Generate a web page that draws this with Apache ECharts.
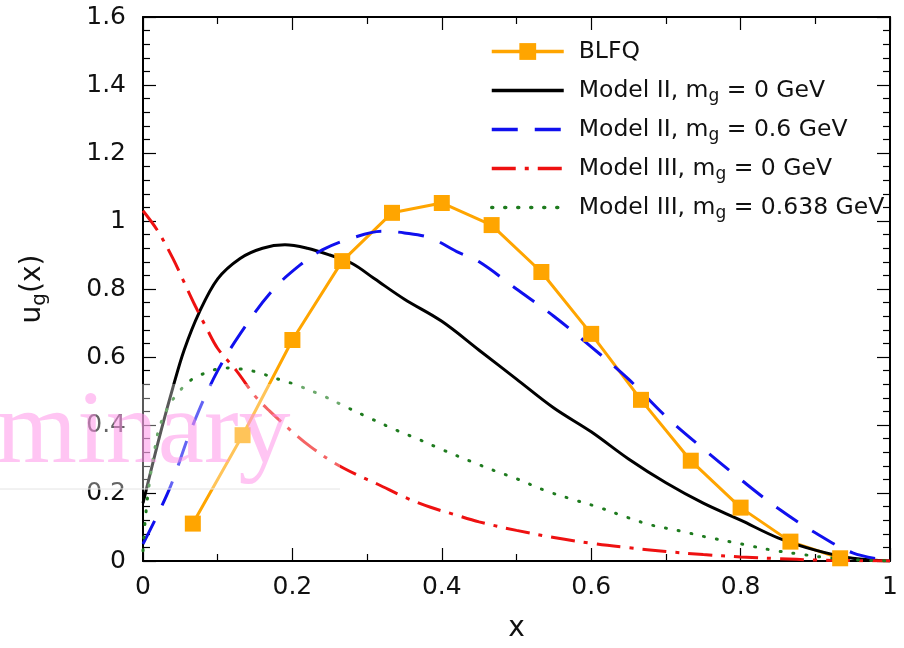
<!DOCTYPE html>
<html>
<head>
<meta charset="utf-8">
<script src="https://cdn.jsdelivr.net/npm/echarts@6/dist/echarts.min.js"></script>
<style>
  html, body { margin: 0; padding: 0; background: #fff; }
  #chart { width: 904px; height: 648px; }
</style>
</head>
<body>
<div id="chart"></div>
<script>
// BLFQ points
const blfqX = [0.0667, 0.1333, 0.2, 0.2667, 0.3333, 0.4, 0.4667, 0.5333, 0.6, 0.6667, 0.7333, 0.8, 0.8667, 0.9333];
const blfqY = [0.11, 0.37, 0.65, 0.882, 1.024, 1.053, 0.988, 0.85, 0.668, 0.474, 0.295, 0.157, 0.057, 0.008];

// Model II, m_g = 0 GeV
const m2aX = [0, 0.01, 0.025, 0.04, 0.055, 0.075, 0.1, 0.13, 0.16, 0.19, 0.22, 0.25, 0.28, 0.31, 0.35, 0.4, 0.45, 0.5, 0.55, 0.6, 0.65, 0.7, 0.75, 0.8, 0.85, 0.9, 0.95, 1.0];
const m2aY = [0.17, 0.26, 0.39, 0.51, 0.62, 0.73, 0.83, 0.89, 0.92, 0.93, 0.92, 0.9, 0.875, 0.83, 0.77, 0.705, 0.62, 0.535, 0.45, 0.38, 0.3, 0.23, 0.17, 0.12, 0.068, 0.032, 0.008, 0];

// Model II, m_g = 0.6 GeV
const m2bX = [0, 0.035, 0.065, 0.1, 0.14, 0.175, 0.21, 0.24, 0.28, 0.32, 0.35, 0.385, 0.42, 0.45, 0.5, 0.55, 0.6, 0.65, 0.7, 0.75, 0.8, 0.85, 0.9, 0.95, 1.0];
const m2bY = [0.05, 0.21, 0.39, 0.56, 0.7, 0.8, 0.87, 0.915, 0.95, 0.97, 0.965, 0.95, 0.91, 0.88, 0.8, 0.72, 0.63, 0.535, 0.425, 0.33, 0.24, 0.155, 0.083, 0.024, 0];

// Model III, m_g = 0 GeV
const m3aX = [0, 0.02, 0.04, 0.055, 0.07, 0.085, 0.1, 0.125, 0.15, 0.17, 0.2, 0.225, 0.255, 0.285, 0.315, 0.35, 0.385, 0.415, 0.45, 0.5, 0.55, 0.6, 0.65, 0.7, 0.75, 0.8, 0.85, 0.9, 0.95, 1.0];
const m3aY = [1.03, 0.97, 0.89, 0.82, 0.75, 0.685, 0.625, 0.56, 0.485, 0.44, 0.38, 0.335, 0.29, 0.255, 0.225, 0.188, 0.158, 0.138, 0.115, 0.09, 0.069, 0.052, 0.039, 0.028, 0.019, 0.012, 0.007, 0.003, 0.001, 0];

// Model III, m_g = 0.638 GeV
const m3bX = [0, 0.003, 0.008, 0.015, 0.023, 0.04, 0.063, 0.08, 0.1, 0.115, 0.13, 0.15, 0.185, 0.205, 0.24, 0.27, 0.3, 0.34, 0.37, 0.4, 0.44, 0.47, 0.5, 0.54, 0.58, 0.61, 0.65, 0.68, 0.72, 0.755, 0.79, 0.81, 0.845, 0.88, 0.915, 0.95, 1.0];
const m3bY = [0.03, 0.12, 0.22, 0.32, 0.4, 0.475, 0.53, 0.55, 0.565, 0.568, 0.565, 0.557, 0.532, 0.518, 0.487, 0.455, 0.424, 0.384, 0.357, 0.328, 0.292, 0.266, 0.242, 0.206, 0.178, 0.158, 0.127, 0.106, 0.088, 0.07, 0.055, 0.046, 0.031, 0.02, 0.01, 0.004, 0];

const names = ['BLFQ', 'Model II, m_g = 0 GeV', 'Model II, m_g = 0.6 GeV', 'Model III, m_g = 0 GeV', 'Model III, m_g = 0.638 GeV'];
const xTicks = { min: 0, max: 1, interval: 0.2 };
const yTicks = { min: 0, max: 1.6, interval: 0.2 };

const font = '"DejaVu Sans", sans-serif';
const pairs = (xs, ys) => xs.map((x, i) => [x, ys[i]]);

const chart = echarts.init(document.getElementById('chart'));

const tickStyle = { color: '#000', width: 1.2 };

function axisBase(show) {
  return {
    type: 'value',
    axisLine: { show: true, onZero: false, lineStyle: { color: '#000', width: 2 } },
    axisTick: { show: true, inside: true, length: 13, lineStyle: tickStyle },
    splitLine: { show: false },
    axisLabel: { show: show, color: '#111', fontSize: 25, fontFamily: font },
  };
}

function lineSeries(name, data, color, type, cap) {
  return {
    name: name,
    type: 'line',
    data: data,
    symbol: 'none',
    smooth: 0.35,
    color: color,
    lineStyle: { color: color, width: 3, type: type, cap: cap || 'butt' },
    emphasis: { disabled: true }
  };
}

chart.setOption({
  backgroundColor: '#fff',
  animation: false,
  grid: { left: 143, right: 14, top: 17, bottom: 84 },
  legend: {
    orient: 'vertical',
    left: 485,
    top: 32,
    itemWidth: 72,
    itemHeight: 21,
    itemGap: 10,
    data: names.map((n, i) => i === 0 ? { name: n } : { name: n, itemStyle: { opacity: 0 } }),
    lineStyle: { width: 3.5 },
    formatter: n => n.indexOf('_g') < 0
      ? '{p|}{t|' + n + '}{s| }'
      : '{p|}{t|' + n.split('_g').join('}{s|g}{t|') + '}',
    textStyle: {
      color: '#111',
      fontFamily: font,
      rich: {
        p: { width: 10 },
        t: { fontSize: 23.5, lineHeight: 30, fontFamily: font, color: '#111' },
        s: { fontSize: 17, lineHeight: 30, fontFamily: font, color: '#111', padding: [12, 0, 0, 0] }
      }
    }
  },
  xAxis: [
    Object.assign(axisBase(true), {
      min: xTicks.min, max: xTicks.max, interval: xTicks.interval,
      minorTick: { show: true, splitNumber: 2, length: 7, lineStyle: tickStyle },
      axisLabel: { color: '#111', fontSize: 25, fontFamily: font, margin: 14 },
      name: 'x', nameLocation: 'middle', nameGap: 54,
      nameTextStyle: { fontSize: 28, fontFamily: font, color: '#111' }
    }),
    Object.assign(axisBase(false), {
      position: 'top',
      min: xTicks.min, max: xTicks.max, interval: xTicks.interval,
      minorTick: { show: true, splitNumber: 2, length: 7, lineStyle: tickStyle }
    })
  ],
  yAxis: [
    Object.assign(axisBase(true), {
      min: yTicks.min, max: yTicks.max, interval: yTicks.interval,
      minorTick: { show: true, splitNumber: 5, length: 7, lineStyle: tickStyle },
      axisLabel: { color: '#111', fontSize: 25, fontFamily: font, margin: 17 },
      name: '{t|u}{s|g}{t|(x)}', nameLocation: 'middle', nameGap: 92, nameRotate: 90,
      nameTextStyle: {
        rich: {
          t: { fontSize: 28, lineHeight: 36, fontFamily: font, color: '#111' },
          s: { fontSize: 20, lineHeight: 36, fontFamily: font, color: '#111', padding: [14, 0, 0, 0] }
        }
      }
    }),
    Object.assign(axisBase(false), {
      position: 'right',
      min: yTicks.min, max: yTicks.max, interval: yTicks.interval,
      minorTick: { show: true, splitNumber: 5, length: 7, lineStyle: tickStyle }
    })
  ],
  series: [
    {
      name: names[0],
      type: 'line',
      data: pairs(blfqX, blfqY),
      symbol: 'rect',
      symbolSize: 16,
      color: '#ffa500',
      itemStyle: { color: '#ffa500' },
      lineStyle: { color: '#ffa500', width: 3 },
      emphasis: { disabled: true }
    },
    lineSeries(names[1], pairs(m2aX, m2aY), '#000000', 'solid'),
    lineSeries(names[2], pairs(m2bX, m2bY), '#1010ee', [26, 17]),
    lineSeries(names[3], pairs(m3aX, m3aY), '#ee1111', [24, 9, 4, 9]),
    lineSeries(names[4], pairs(m3bX, m3bY), '#1e7b1e', [1, 12], 'round')
  ],
  graphic: [
    { type: 'rect', z: 90, shape: { x: 0, y: 384, width: 340, height: 105 }, style: { fill: 'rgba(255,255,255,0.35)' } },
    { type: 'line', z: 91, shape: { x1: 0, y1: 489, x2: 340, y2: 489 }, style: { stroke: '#e4e4e4', lineWidth: 1 } },
    { type: 'text', z: 92, left: -4, top: 383, style: { text: 'minary', font: '104px "Liberation Serif", serif', fill: 'rgba(255,140,232,0.5)' } }
  ]
});
</script>
</body>
</html>
